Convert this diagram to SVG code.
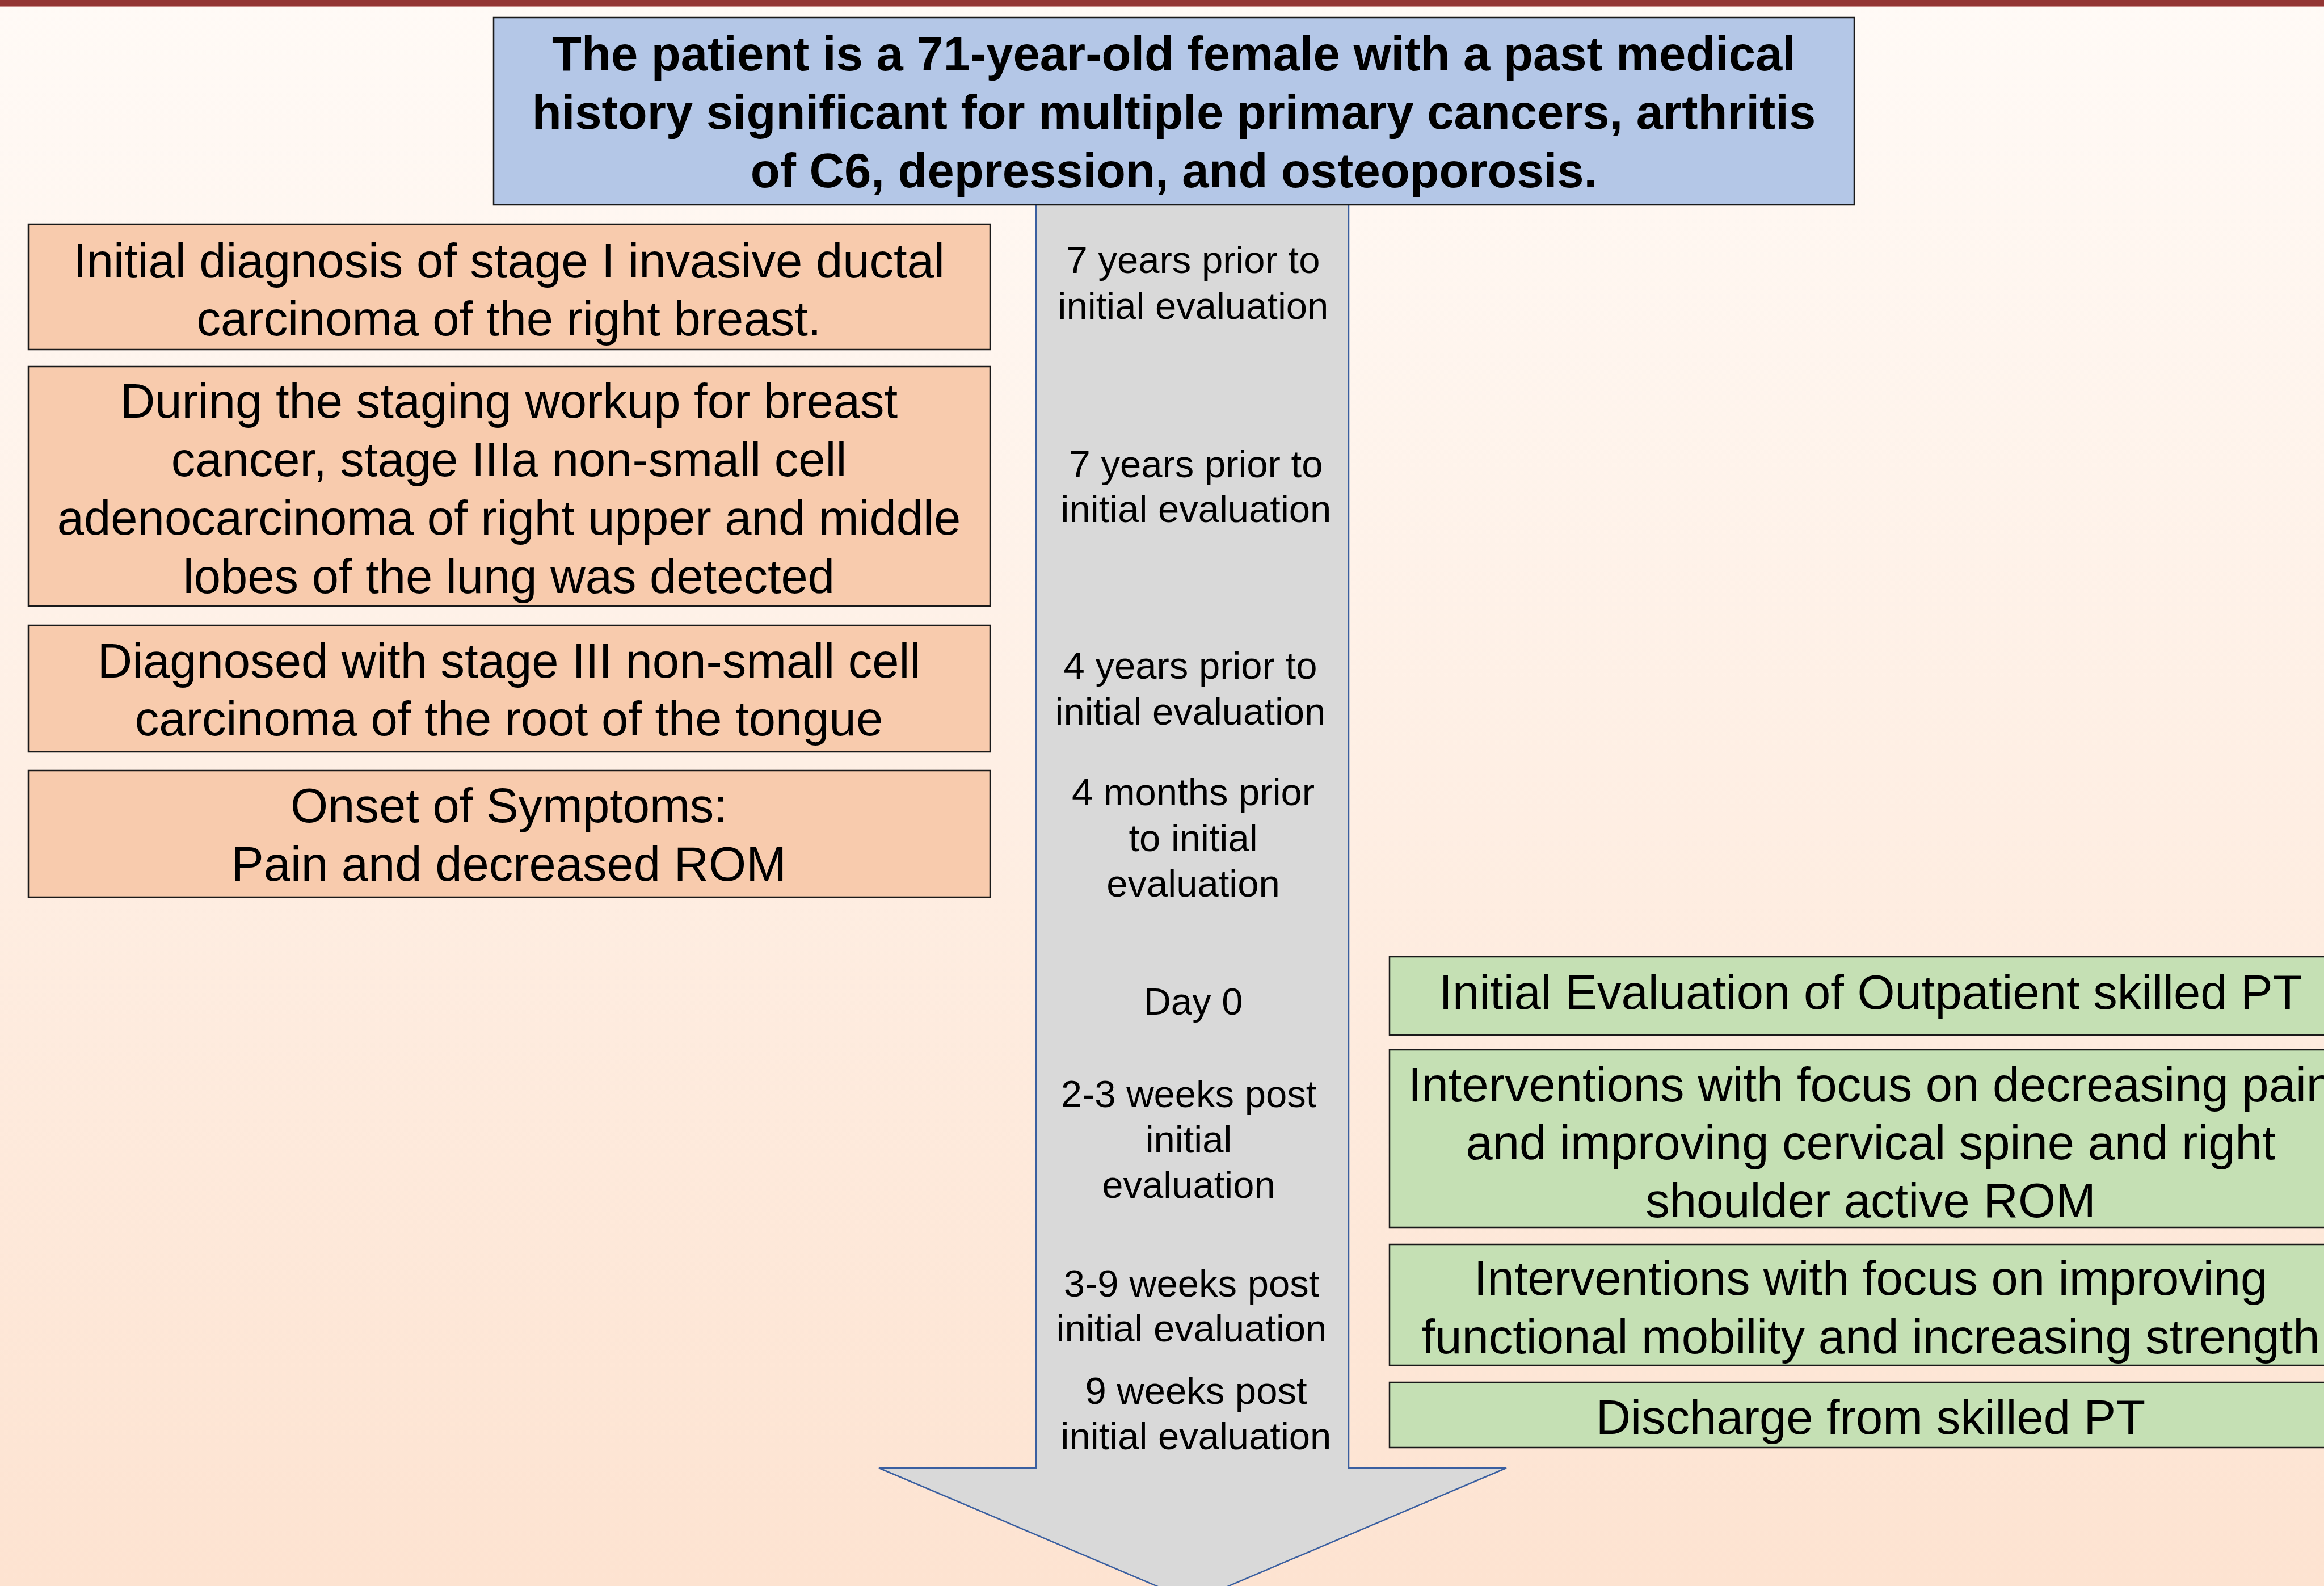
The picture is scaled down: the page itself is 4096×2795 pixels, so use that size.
<svg xmlns="http://www.w3.org/2000/svg" width="4096" height="2795" viewBox="0 0 4096 2795">
<defs>
<linearGradient id="bg" x1="0" y1="0" x2="0" y2="1">
<stop offset="0" stop-color="#FFFAF6"/>
<stop offset="1" stop-color="#FDE3D1"/>
</linearGradient>
<style>
.box{stroke:#1a1a1a;stroke-width:2.5}
.blue{fill:#B4C7E7}
.orange{fill:#F8CBAD}
.green{fill:#C5E0B4}
.t{font-family:"Liberation Sans",Arial,sans-serif;fill:#000;text-anchor:middle}
.title{font-size:85px;font-weight:bold}
.body{font-size:85px}
.lab{font-size:67px}
</style>
</defs>
<rect x="0" y="0" width="4096" height="2795" fill="url(#bg)"/>
<rect x="0" y="0" width="4096" height="11" fill="#943634"/>
<rect x="0" y="11" width="4096" height="2" fill="#C98C8A"/>

<g id="timeline-arrow">
<path d="M1826,358 L2377,358 L2377,2587 L2655,2587 L2102,2822 L1549,2587 L1826,2587 Z" fill="#D9D9D9" stroke="#3A5FA0" stroke-width="2.5" stroke-linejoin="miter"/>
</g>

<g id="header">
<rect class="box blue" x="870" y="31" width="2398" height="330"/>
<text class="t title"><tspan x="2069" y="124">The patient is a 71-year-old female with a past medical</tspan><tspan x="2069" y="227">history significant for multiple primary cancers, arthritis</tspan><tspan x="2069" y="330">of C6, depression, and osteoporosis.</tspan></text>
</g>

<g id="event1">
<rect class="box orange" x="50" y="395" width="1695" height="221"/>
<text class="t body"><tspan x="897" y="489">Initial diagnosis of stage I invasive ductal</tspan><tspan x="897" y="591">carcinoma of the right breast.</tspan></text>
</g>
<g id="event2">
<rect class="box orange" x="50" y="646" width="1695" height="422"/>
<text class="t body"><tspan x="897" y="736">During the staging workup for breast</tspan><tspan x="897" y="839">cancer, stage IIIa non-small cell</tspan><tspan x="897" y="942">adenocarcinoma of right upper and middle</tspan><tspan x="897" y="1045">lobes of the lung was detected</tspan></text>
</g>
<g id="event3">
<rect class="box orange" x="50" y="1102" width="1695" height="223"/>
<text class="t body"><tspan x="897" y="1194">Diagnosed with stage III non-small cell</tspan><tspan x="897" y="1296">carcinoma of the root of the tongue</tspan></text>
</g>
<g id="event4">
<rect class="box orange" x="50" y="1358" width="1695" height="223"/>
<text class="t body"><tspan x="897" y="1449">Onset of Symptoms:</tspan><tspan x="897" y="1552">Pain and decreased ROM</tspan></text>
</g>

<g id="label1"><text class="t lab"><tspan x="2103" y="481">7 years prior to</tspan><tspan x="2103" y="562">initial evaluation</tspan></text></g>
<g id="label2"><text class="t lab"><tspan x="2108" y="841">7 years prior to</tspan><tspan x="2108" y="920">initial evaluation</tspan></text></g>
<g id="label3"><text class="t lab"><tspan x="2098" y="1196">4 years prior to</tspan><tspan x="2098" y="1277">initial evaluation</tspan></text></g>
<g id="label4"><text class="t lab"><tspan x="2103" y="1419">4 months prior</tspan><tspan x="2103" y="1500">to initial</tspan><tspan x="2103" y="1580">evaluation</tspan></text></g>
<g id="label5"><text class="t lab"><tspan x="2103" y="1788">Day 0</tspan></text></g>
<g id="label6"><text class="t lab"><tspan x="2095" y="1951">2-3 weeks post</tspan><tspan x="2095" y="2031">initial</tspan><tspan x="2095" y="2111">evaluation</tspan></text></g>
<g id="label7"><text class="t lab"><tspan x="2100" y="2285">3-9 weeks post</tspan><tspan x="2100" y="2364">initial evaluation</tspan></text></g>
<g id="label8"><text class="t lab"><tspan x="2108" y="2474">9 weeks post</tspan><tspan x="2108" y="2554">initial evaluation</tspan></text></g>

<g id="pt1">
<rect class="box green" x="2449" y="1686" width="1700" height="138"/>
<text class="t body"><tspan x="3297" y="1778">Initial Evaluation of Outpatient skilled PT</tspan></text>
</g>
<g id="pt2">
<rect class="box green" x="2449" y="1850" width="1700" height="313"/>
<text class="t body"><tspan x="3297" y="1941">Interventions with focus on decreasing pain</tspan><tspan x="3297" y="2043">and improving cervical spine and right</tspan><tspan x="3297" y="2145">shoulder active ROM</tspan></text>
</g>
<g id="pt3">
<rect class="box green" x="2449" y="2193" width="1700" height="213"/>
<text class="t body"><tspan x="3297" y="2282">Interventions with focus on improving</tspan><tspan x="3297" y="2385">functional mobility and increasing strength</tspan></text>
</g>
<g id="pt4">
<rect class="box green" x="2449" y="2436" width="1700" height="115"/>
<text class="t body"><tspan x="3297" y="2527">Discharge from skilled PT</tspan></text>
</g>
<g id="connectors"></g>
</svg>
